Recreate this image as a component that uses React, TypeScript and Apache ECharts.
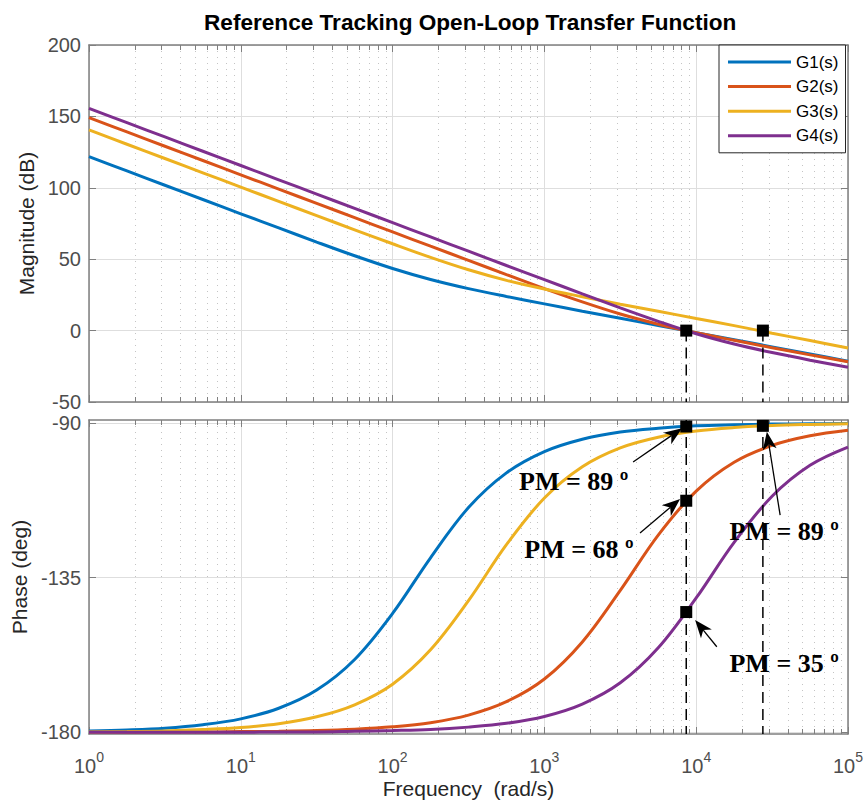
import React, { useEffect, useRef } from "react";
import * as echarts from "echarts";

// Frequency samples (rad/s), quarter-decade spacing
const freq = [1, 1.778, 3.162, 5.623, 10, 17.78, 31.62, 56.23, 100, 177.8, 316.2, 562.3, 1000, 1778, 3162, 5623, 10000, 17783, 31623, 56234, 100000];

// Magnitude (dB)
const magG1 = [121.8, 111.8, 101.8, 91.8, 81.8, 71.9, 62.0, 52.4, 43.5, 35.8, 29.4, 23.9, 18.7, 13.6, 8.6, 3.6, -1.4, -6.4, -11.4, -16.4, -21.4];
const magG2 = [149.1, 139.1, 129.1, 119.1, 109.1, 99.1, 89.1, 79.1, 69.1, 59.1, 49.2, 39.2, 29.4, 20.1, 11.6, 4.5, -1.5, -6.8, -12.0, -17.0, -21.8];
const magG3 = [140.5, 130.5, 120.5, 110.5, 100.5, 90.5, 80.5, 70.6, 60.8, 51.3, 42.6, 35.2, 29.1, 23.7, 18.5, 13.5, 8.5, 3.5, -1.8, -7.0, -12.2];
const magG4 = [155.6, 145.6, 135.6, 125.6, 115.6, 105.6, 95.6, 85.6, 75.6, 65.6, 55.6, 45.6, 35.7, 25.7, 15.9, 6.5, -2.2, -9.4, -15.4, -20.7, -25.6];

// Phase (deg)
const phG1 = [-179.6, -179.3, -178.8, -177.8, -176.1, -173.0, -167.7, -158.8, -145.4, -129.2, -114.6, -104.5, -98.3, -94.7, -92.6, -91.5, -90.8, -90.5, -90.3, -90.2, -90.1];
const phG2 = [-180.0, -180.0, -179.9, -179.9, -179.8, -179.7, -179.5, -179.1, -178.4, -177.2, -175.0, -171.1, -164.5, -153.7, -138.7, -122.6, -109.8, -101.4, -96.5, -93.7, -92.1];
const phG3 = [-179.9, -179.8, -179.6, -179.2, -178.6, -177.5, -175.5, -172.0, -166.0, -156.0, -141.7, -125.4, -111.8, -102.7, -97.2, -94.1, -92.3, -91.3, -90.7, -90.4, -90.2];
const phG4 = [-180.0, -180.0, -180.0, -180.0, -180.0, -179.9, -179.9, -179.7, -179.5, -179.2, -178.5, -177.4, -175.4, -171.8, -165.6, -155.4, -140.9, -124.7, -111.3, -102.3, -97.0];

const names = ["G1(s)", "G2(s)", "G3(s)", "G4(s)"];
const colors = ["#0072BD", "#D95319", "#EDB120", "#7E2F8E"];

// Gain crossover frequencies and phase-margin points
const wcFreq = [8600, 27500];
const pmFreq = [8600, 8600, 8600, 27500];
const pmPhase = [-91.0, -112.6, -145.0, -90.8];

// Annotations (data coordinates of the phase plot)
const annoLabels = ["PM = 89 º", "PM = 68 º", "PM = 89 º", "PM = 35 º"];
const annoX = [1560, 1690, 37970, 37970];
const annoY = [-106.9, -126.7, -121.7, -160.1];
// arrows: tail x, tail y, tip x, tip y
const arrowTailX = [3841, 4266, 35730, 13670];
const arrowTailY = [-101.3, -122.0, -116.8, -155.1];
const arrowTipX = [8075, 7834, 29210, 9835];
const arrowTipY = [-91.5, -112.1, -92.5, -147.3];

const FONT = "Liberation Sans";
const AXC = "#7f7f7f";
const LBC = "#4d4d4d";

export default function App() {
  const ref = useRef<HTMLDivElement>(null);
  useEffect(() => {
    if (!ref.current) return;
    const chart = echarts.init(ref.current, undefined, { renderer: "svg" });

    const minorFreqs: number[] = [];
    for (let d = 1; d <= 10000; d *= 10) for (let m = 2; m <= 9; m++) minorFreqs.push(d * m);

    const minorRender = (yRef: number) => (params: any, api: any) => {
      const cs = params.coordSys;
      const x = Math.round(api.coord([api.value(0), yRef])[0]) + 0.5;
      const top = cs.y, bot = cs.y + cs.height;
      return {
        type: "group",
        children: [
          { type: "line", shape: { x1: x, y1: top, x2: x, y2: bot }, style: { stroke: "#c4c4c4", lineWidth: 1, lineDash: [1, 5] } },
          { type: "line", shape: { x1: x, y1: bot, x2: x, y2: bot - 5 }, style: { stroke: AXC, lineWidth: 1 } },
          { type: "line", shape: { x1: x, y1: top, x2: x, y2: top + 5 }, style: { stroke: AXC, lineWidth: 1 } },
        ],
      };
    };

    const arrowRender = (params: any, api: any) => {
      const p1 = api.coord([api.value(0), api.value(1)]);
      const p2 = api.coord([api.value(2), api.value(3)]);
      const dx = p2[0] - p1[0], dy = p2[1] - p1[1];
      const len = Math.hypot(dx, dy);
      const ux = dx / len, uy = dy / len, nx = -uy, ny = ux;
      const L = 18, W = 7, B = 5;
      const base = [p2[0] - ux * L, p2[1] - uy * L];
      const back = [p2[0] - ux * (L - B), p2[1] - uy * (L - B)];
      return {
        type: "group",
        children: [
          { type: "line", shape: { x1: p1[0], y1: p1[1], x2: back[0], y2: back[1] }, style: { stroke: "#000", lineWidth: 1.3 } },
          { type: "polygon", shape: { points: [p2, [base[0] + nx * W, base[1] + ny * W], back, [base[0] - nx * W, base[1] - ny * W]] }, style: { fill: "#000" } },
        ],
      };
    };

    const textRender = (params: any, api: any) => {
      const p = api.coord([api.value(0), api.value(1)]);
      return {
        type: "text",
        x: p[0],
        y: p[1],
        style: { text: annoLabels[params.dataIndex], fill: "#000", font: 'bold 26px "Liberation Serif"', align: "center", verticalAlign: "middle" },
      };
    };

    const xBase = (gridIndex: number, pos: "bottom" | "top", labels: boolean, split: boolean) => ({
      type: "log",
      logBase: 10,
      gridIndex,
      position: pos,
      min: 1,
      max: 100000,
      splitNumber: 5,
      axisLine: { show: true, onZero: false, lineStyle: { color: AXC, width: 1.5 } },
      axisTick: { show: true, inside: true, length: 7, lineStyle: { color: AXC } },
      axisLabel: labels
        ? {
            show: true,
            margin: 16,
            formatter: (v: number) => "{b|10}{e|" + Math.round(Math.log10(v)) + "}",
            rich: {
              b: { fontSize: 20, fontFamily: FONT, color: LBC, lineHeight: 26, verticalAlign: "bottom" },
              e: { fontSize: 14, fontFamily: FONT, color: LBC, lineHeight: 14, verticalAlign: "top" },
            },
          }
        : { show: false },
      splitLine: { show: split, lineStyle: { color: "#dedede", width: 1 } },
    });

    const option: any = {
      animation: false,
      backgroundColor: "#fff",
      title: {
        text: "Reference Tracking Open-Loop Transfer Function",
        left: 199,
        top: 6,
        textStyle: { fontFamily: FONT, fontWeight: "bold", fontSize: 22.6, color: "#000" },
      },
      legend: {
        data: names,
        orient: "vertical",
        left: 719,
        top: 45,
        backgroundColor: "#fff",
        borderColor: "#262626",
        borderWidth: 1,
        borderRadius: 0,
        padding: [8, 7, 8, 9],
        itemGap: 6.6,
        itemWidth: 63,
        itemHeight: 3,
        icon: "rect",
        textStyle: { fontFamily: FONT, fontSize: 17, color: "#000", lineHeight: 18 },
      },
      grid: [
        { left: 89, right: 18, top: 45, height: 357, containLabel: false },
        { left: 89, right: 18, top: 420, height: 314, containLabel: false },
      ],
      xAxis: [
        xBase(0, "bottom", false, true),
        xBase(0, "top", false, false),
        {
          ...xBase(1, "bottom", true, true),
          name: "Frequency  (rad/s)",
          nameLocation: "middle",
          nameGap: 44,
          nameTextStyle: { fontFamily: FONT, fontSize: 21, color: "#262626" },
        },
        xBase(1, "top", false, false),
      ],
      yAxis: [
        {
          type: "value",
          gridIndex: 0,
          min: -50,
          max: 200,
          interval: 50,
          position: "left",
          name: "Magnitude (dB)",
          nameLocation: "middle",
          nameGap: 46,
          nameRotate: 90,
          nameTextStyle: { fontFamily: FONT, fontSize: 21, color: "#262626" },
          axisLine: { show: true, lineStyle: { color: AXC, width: 1.5 } },
          axisTick: { show: true, inside: true, length: 7, lineStyle: { color: AXC } },
          axisLabel: { fontFamily: FONT, fontSize: 20, color: LBC, margin: 8 },
          splitLine: { show: true, lineStyle: { color: "#dedede" } },
        },
        {
          type: "value",
          gridIndex: 0,
          min: -50,
          max: 200,
          interval: 50,
          position: "right",
          axisLine: { show: true, lineStyle: { color: AXC, width: 1.5 } },
          axisTick: { show: true, inside: true, length: 7, lineStyle: { color: AXC } },
          axisLabel: { show: false },
          splitLine: { show: false },
        },
        {
          type: "value",
          gridIndex: 1,
          min: -180.5,
          max: -89.1,
          position: "left",
          name: "Phase (deg)",
          nameLocation: "middle",
          nameGap: 46,
          nameRotate: 90,
          nameTextStyle: { fontFamily: FONT, fontSize: 21, color: "#262626" },
          axisLine: { show: true, lineStyle: { color: AXC, width: 1.5 } },
          axisTick: { show: true, inside: true, length: 7, lineStyle: { color: AXC }, customValues: [-180, -135, -90] },
          axisLabel: { fontFamily: FONT, fontSize: 20, color: LBC, margin: 8, customValues: [-180, -135, -90] },
          splitLine: { show: true, lineStyle: { color: "#dedede" } },
        },
        {
          type: "value",
          gridIndex: 1,
          min: -180.5,
          max: -89.1,
          position: "right",
          axisLine: { show: true, lineStyle: { color: AXC, width: 1.5 } },
          axisTick: { show: true, inside: true, length: 7, lineStyle: { color: AXC }, customValues: [-180, -135, -90] },
          axisLabel: { show: false },
          splitLine: { show: false },
        },
      ],
      series: [] as any[],
    };

    // minor grid / ticks
    option.series.push({
      type: "custom",
      xAxisIndex: 0,
      yAxisIndex: 0,
      silent: true,
      z: 1,
      renderItem: minorRender(0),
      encode: { x: 0, y: 1 },
      data: minorFreqs.map((f) => [f, 0]),
    });
    option.series.push({
      type: "custom",
      xAxisIndex: 2,
      yAxisIndex: 2,
      silent: true,
      z: 1,
      renderItem: minorRender(-135),
      encode: { x: 0, y: 1 },
      data: minorFreqs.map((f) => [f, -135]),
    });

    const mags = [magG1, magG2, magG3, magG4];
    const phs = [phG1, phG2, phG3, phG4];
    mags.forEach((m, i) => {
      option.series.push({
        name: names[i],
        type: "line",
        xAxisIndex: 0,
        yAxisIndex: 0,
        showSymbol: false,
        smooth: 0.35,
        color: colors[i],
        lineStyle: { width: 3, color: colors[i] },
        data: freq.map((f, k) => [f, m[k]]),
        z: 3,
      });
    });
    phs.forEach((p, i) => {
      option.series.push({
        name: names[i],
        type: "line",
        xAxisIndex: 2,
        yAxisIndex: 2,
        showSymbol: false,
        smooth: 0.35,
        color: colors[i],
        lineStyle: { width: 3, color: colors[i] },
        data: freq.map((f, k) => [f, p[k]]),
        z: 3,
      });
    });

    // dashed crossover lines
    wcFreq.forEach((w) => {
      option.series.push({
        type: "line",
        xAxisIndex: 0,
        yAxisIndex: 0,
        showSymbol: false,
        silent: true,
        lineStyle: { color: "#000", width: 1.5, type: [11, 6] },
        data: [[w, 0], [w, -50]],
        z: 4,
      });
      option.series.push({
        type: "line",
        xAxisIndex: 2,
        yAxisIndex: 2,
        showSymbol: false,
        silent: true,
        lineStyle: { color: "#000", width: 1.5, type: [11, 6] },
        data: [[w, -89.1], [w, -180.5]],
        z: 4,
      });
    });

    // markers
    option.series.push({
      type: "scatter",
      xAxisIndex: 0,
      yAxisIndex: 0,
      symbol: "rect",
      symbolSize: 12,
      itemStyle: { color: "#000", opacity: 1 },
      data: wcFreq.map((w) => [w, 0]),
      z: 6,
    });
    option.series.push({
      type: "scatter",
      xAxisIndex: 2,
      yAxisIndex: 2,
      symbol: "rect",
      symbolSize: 12,
      itemStyle: { color: "#000", opacity: 1 },
      data: pmFreq.map((w, i) => [w, pmPhase[i]]),
      z: 6,
    });

    // arrows
    option.series.push({
      type: "custom",
      xAxisIndex: 2,
      yAxisIndex: 2,
      silent: true,
      z: 7,
      renderItem: arrowRender,
      encode: { x: [0, 2], y: [1, 3] },
      data: arrowTailX.map((x, i) => [x, arrowTailY[i], arrowTipX[i], arrowTipY[i]]),
    });
    // annotation texts
    option.series.push({
      type: "custom",
      xAxisIndex: 2,
      yAxisIndex: 2,
      silent: true,
      z: 8,
      renderItem: textRender,
      encode: { x: 0, y: 1 },
      data: annoX.map((x, i) => [x, annoY[i]]),
    });

    chart.setOption(option);
    return () => chart.dispose();
  }, []);
  return <div ref={ref} style={{ position: "absolute", left: 0, top: 0, width: 866, height: 805, background: "#fff" }} />;
}
